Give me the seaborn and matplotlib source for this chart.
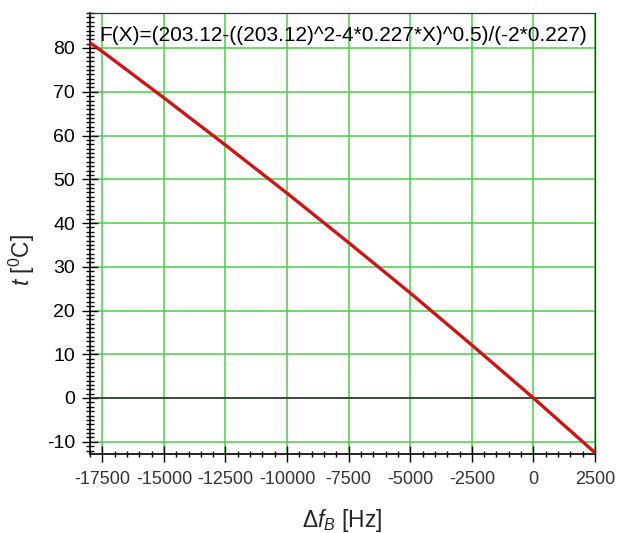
import matplotlib
matplotlib.use('Agg')
import matplotlib.pyplot as plt
from matplotlib.ticker import MultipleLocator
import seaborn as sns

# values
freq_shift = [-18000, -17500, -15000, -12500, -10000, -7500, -5000, -2500, 0, 2500]
temperature = [81.2, 79.2, 68.6, 57.8, 46.8, 35.5, 24.0, 12.1, 0.0, -12.5]
x_ticks = [-17500, -15000, -12500, -10000, -7500, -5000, -2500, 0, 2500]
y_ticks = [-10, 0, 10, 20, 30, 40, 50, 60, 70, 80]
formula = "F(X)=(203.12-((203.12)^2-4*0.227*X)^0.5)/(-2*0.227)"

sns.set_style('ticks')
plt.rcParams['font.family'] = ['Liberation Sans', 'DejaVu Sans']
plt.rcParams['mathtext.fontset'] = 'custom'
plt.rcParams['mathtext.rm'] = 'Liberation Sans'
plt.rcParams['mathtext.it'] = 'Liberation Sans:italic'
plt.rcParams['axes.unicode_minus'] = False

fig = plt.figure(figsize=(6.17, 5.33), dpi=100)
ax = fig.add_axes([90 / 617, 1 - 454 / 533, 505 / 617, 441 / 533])

ax.axhline(0, color='#333333', lw=1.2, zorder=2)
sns.lineplot(x=freq_shift, y=temperature, color='#cc1515', lw=2.4, ax=ax, zorder=3)

ax.set_xlim(-18000, 2500)
ax.set_ylim(-12.8, 88)
ax.set_xticks(x_ticks)
ax.set_yticks(y_ticks)
ax.xaxis.set_minor_locator(MultipleLocator(500))
ax.yaxis.set_minor_locator(MultipleLocator(1))
ax.grid(which='major', color='#4ccc4c', lw=1.1, zorder=1)

ax.tick_params(which='both', bottom=True, left=True, top=False, right=False,
               direction='inout', color='black', width=1)
ax.tick_params(axis='x', which='major', length=11, labelsize=13,
               labelcolor='#333333', pad=7)
ax.tick_params(axis='x', which='minor', length=4.5)
ax.tick_params(axis='y', which='major', length=11.5, labelsize=14,
               labelcolor='black', pad=5)
ax.tick_params(axis='y', which='minor', length=5.5)

for side in ['top', 'right']:
    ax.spines[side].set_color('#333333')
    ax.spines[side].set_linewidth(0.9)
for side in ['left', 'bottom']:
    ax.spines[side].set_color('black')
    ax.spines[side].set_linewidth(1.2)

ax.text(0.019, 0.937, formula, transform=ax.transAxes, fontsize=15,
        ha='left', va='baseline', color='black', zorder=4)

ax.set_xlabel(r'$\Delta\mathit{f}_{B}$ [Hz]', fontsize=16.5)
ax.set_ylabel(r'$\mathit{t}$ [$^{0}$C]', fontsize=16.5)
ax.xaxis.set_label_coords(0.5, -0.12)
ax.yaxis.set_label_coords(-0.105, 0.44)

fig.savefig('out.png', dpi=100)
